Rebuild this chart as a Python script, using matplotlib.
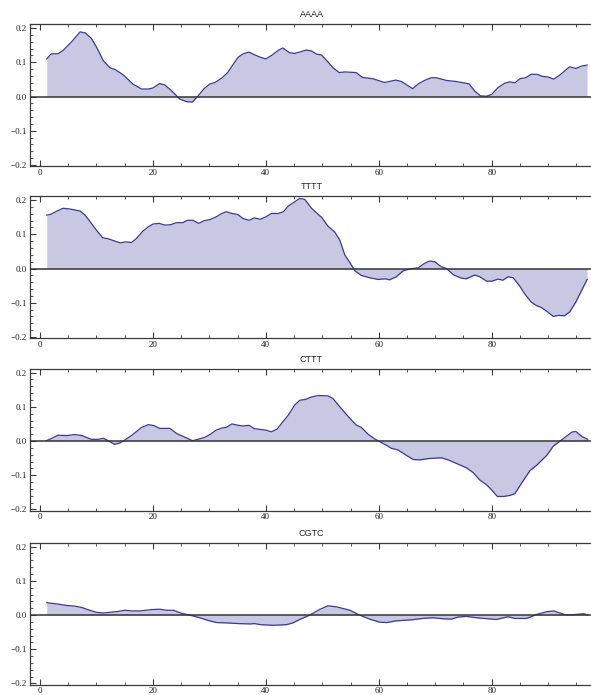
import matplotlib
matplotlib.use("Agg")
import matplotlib.pyplot as plt
from matplotlib.ticker import MultipleLocator

titles = ["AAAA", "TTTT", "CTTT", "CGTC"]

aaaa_x = [1.2, 2, 3.2, 4.1, 5.6, 7.1, 8, 9.1, 10, 11.2, 12.4, 13.3, 14.7, 16.5, 18, 19.2, 20,
          21.2, 22.1, 23.3, 24.8, 26, 27, 28, 29, 30, 31, 32.2, 33.3, 34.2, 35.1, 36, 37, 38, 39,
          40, 41, 42.2, 43, 44.2, 45.1, 46, 47.2, 48.1, 49, 49.9, 51, 51.9, 53, 54, 56, 57.1, 59,
          61, 63, 64, 66, 67, 68.1, 69.3, 70.2, 72, 73.7, 76, 77, 78, 79.1, 80, 81.1, 82.3, 83.2,
          84.1, 85, 86, 87, 88, 89, 90, 91, 92, 93.8, 94.9, 95.9, 96.9]
aaaa_y = [0.110, 0.125, 0.125, 0.135, 0.160, 0.189, 0.186, 0.170, 0.145, 0.105, 0.084, 0.079,
          0.064, 0.036, 0.022, 0.022, 0.025, 0.038, 0.034, 0.017, -0.008, -0.015, -0.016, 0.002,
          0.022, 0.036, 0.041, 0.054, 0.071, 0.094, 0.115, 0.125, 0.130, 0.122, 0.115, 0.110,
          0.120, 0.135, 0.142, 0.128, 0.126, 0.130, 0.136, 0.133, 0.124, 0.121, 0.101, 0.084,
          0.070, 0.072, 0.070, 0.056, 0.052, 0.041, 0.048, 0.044, 0.023, 0.037, 0.047, 0.055,
          0.055, 0.047, 0.044, 0.037, 0.016, 0.002, 0.001, 0.006, 0.026, 0.039, 0.043, 0.040,
          0.052, 0.055, 0.065, 0.065, 0.059, 0.057, 0.051, 0.062, 0.087, 0.082, 0.089, 0.092]

tttt_x = [1.2, 2, 3, 4.1, 5.3, 7.1, 8, 9.1, 10, 11.1, 12.1, 13.3, 14.2, 15.2, 16.2, 17.1, 18.2,
          19.2, 20, 21.1, 22.1, 23.1, 24.2, 25.3, 26.1, 27.1, 28.1, 29.1, 30.1, 31.2, 32.2, 33,
          34, 35, 36, 37, 38, 39, 40, 41, 42.2, 43.1, 44, 45.1, 46, 46.9, 48.1, 49.9, 51, 52.2,
          53.1, 54, 54.9, 55.8, 56.9, 58.4, 59.9, 61.1, 61.9, 63.1, 64.3, 65.5, 67, 68.1, 69,
          69.9, 71.1, 72, 73.2, 74.6, 75.5, 77, 77.9, 79.1, 80, 81.1, 82, 82.9, 83.8, 85, 85.8,
          87, 87.9, 88.8, 90, 90.9, 91.7, 92.9, 93.8, 94.9, 95.9, 96.9]
tttt_y = [0.156, 0.159, 0.168, 0.176, 0.174, 0.168, 0.156, 0.132, 0.112, 0.090, 0.087, 0.080,
          0.075, 0.078, 0.076, 0.088, 0.109, 0.122, 0.130, 0.132, 0.127, 0.128, 0.134, 0.134,
          0.141, 0.141, 0.132, 0.140, 0.143, 0.151, 0.161, 0.166, 0.161, 0.158, 0.146, 0.141,
          0.148, 0.144, 0.151, 0.161, 0.161, 0.166, 0.183, 0.195, 0.205, 0.202, 0.176, 0.149,
          0.124, 0.107, 0.083, 0.039, 0.017, -0.007, -0.020, -0.027, -0.032, -0.030, -0.033,
          -0.024, -0.007, -0.001, 0.002, 0.015, 0.022, 0.020, 0.005, 0.000, -0.018, -0.028,
          -0.030, -0.019, -0.024, -0.037, -0.037, -0.031, -0.034, -0.024, -0.027, -0.052,
          -0.073, -0.098, -0.108, -0.114, -0.128, -0.140, -0.137, -0.138, -0.127, -0.098,
          -0.065, -0.032]

cttt_x = [1.1, 2.1, 3.2, 4.7, 6.2, 7.4, 9.1, 10.3, 11.2, 12.1, 13.2, 14.2, 15, 16.2, 18, 19.2,
          20.2, 21.2, 23, 24.2, 25.7, 27, 28, 29.2, 30.1, 31.2, 32.2, 33, 34, 35.1, 36, 37, 38,
          40, 41, 42, 43, 44, 45.1, 46, 47.1, 48.1, 49.3, 51, 51.9, 53.1, 54.9, 56, 56.9, 58.1,
          59.3, 60.2, 61.4, 62.2, 63.4, 64.9, 66.1, 67.3, 69, 71.1, 72.3, 73.7, 75.5, 76.7,
          77.9, 79.1, 80, 81, 82.1, 83.2, 84.1, 85.3, 86.8, 88, 89.8, 90.9, 92.2, 93.4, 94.2,
          94.9, 96, 97]
cttt_y = [0.001, 0.008, 0.017, 0.016, 0.019, 0.016, 0.005, 0.005, 0.008, 0.001, -0.010, -0.005,
          0.003, 0.016, 0.040, 0.048, 0.045, 0.037, 0.037, 0.022, 0.011, 0.001, 0.005, 0.011,
          0.019, 0.032, 0.038, 0.040, 0.050, 0.046, 0.044, 0.046, 0.036, 0.032, 0.027, 0.035,
          0.056, 0.076, 0.105, 0.119, 0.122, 0.129, 0.133, 0.132, 0.124, 0.100, 0.066, 0.047,
          0.040, 0.020, 0.006, -0.002, -0.013, -0.021, -0.026, -0.042, -0.054, -0.055, -0.051,
          -0.049, -0.055, -0.065, -0.078, -0.092, -0.114, -0.128, -0.143, -0.162, -0.162,
          -0.159, -0.154, -0.123, -0.086, -0.070, -0.041, -0.015, 0.001, 0.016, 0.026, 0.028,
          0.013, 0.005]

cgtc_x = [1.2, 3.2, 4.7, 6.2, 7.4, 8.8, 10, 11.2, 12.4, 13.6, 15, 16.2, 17.7, 19.8, 21.2, 22.4,
          23.6, 25.1, 26.5, 28.3, 29.8, 31.3, 33, 35.1, 37.2, 38, 39, 40.1, 41.3, 43.7, 44.8,
          46, 47.8, 49.6, 51, 52.5, 54.9, 56.6, 58.4, 60.2, 61.4, 63.1, 65.8, 67.8, 69.6, 71.4,
          72.9, 74, 75.5, 77.3, 79.4, 80.8, 82.9, 84.1, 86.2, 88, 89.8, 91, 93, 94.5, 96.3, 97]
cgtc_y = [0.036, 0.032, 0.028, 0.026, 0.022, 0.014, 0.008, 0.006, 0.008, 0.010, 0.014, 0.012,
          0.012, 0.016, 0.017, 0.014, 0.014, 0.005, 0.000, -0.008, -0.016, -0.022, -0.023,
          -0.025, -0.026, -0.025, -0.028, -0.029, -0.030, -0.028, -0.023, -0.013, 0.000, 0.017,
          0.027, 0.024, 0.014, 0.000, -0.012, -0.021, -0.022, -0.017, -0.014, -0.010, -0.008,
          -0.011, -0.012, -0.006, -0.004, -0.008, -0.011, -0.013, -0.005, -0.010, -0.010, 0.002,
          0.010, 0.012, 0.001, 0.001, 0.004, 0.000]

series = [(aaaa_x, aaaa_y), (tttt_x, tttt_y), (cttt_x, cttt_y), (cgtc_x, cgtc_y)]

W, H = 591, 695
fig = plt.figure(figsize=(W / 100, H / 100), dpi=100)

tops = [24, 196, 368.5, 542.5]
ax_h = 142
left_px, right_px = 30, 593
px_per_unit = 5.646
x0_px = 40
xlim = ((left_px - x0_px) / px_per_unit, (right_px - x0_px) / px_per_unit)

line_color = "#3A3A96"
fill_color = "#C8C8E3"
frame_color = "#3a3a3a"

for i, (title, (xs, ys)) in enumerate(zip(titles, series)):
    top = tops[i]
    ax = fig.add_axes([left_px / W, 1 - (top + ax_h) / H, (right_px - left_px) / W, ax_h / H])
    ax.fill_between(xs, ys, 0, color=fill_color, linewidth=0)
    ax.plot(xs, ys, color=line_color, lw=0.9)
    ax.axhline(0, color="#333333", lw=1.1, zorder=3)
    ax.set_xlim(*xlim)
    ax.set_ylim(-0.203, 0.212)
    ax.xaxis.set_major_locator(MultipleLocator(20))
    ax.xaxis.set_minor_locator(MultipleLocator(5))
    ax.yaxis.set_major_locator(MultipleLocator(0.1))
    ax.yaxis.set_minor_locator(MultipleLocator(0.02))
    ax.set_yticks([-0.2, -0.1, 0.0, 0.1, 0.2])
    ax.set_yticklabels(["\u22120.2", "\u22120.1", "0.0", "0.1", "0.2"])
    ax.tick_params(axis="both", which="both", direction="in", top=True, right=False,
                   colors=frame_color, labelcolor="#222222")
    ax.tick_params(axis="both", which="major", length=4, width=0.8, labelsize=6.5, pad=2)
    ax.tick_params(axis="both", which="minor", length=2, width=0.6)
    for lab in ax.get_xticklabels() + ax.get_yticklabels():
        lab.set_fontfamily("Liberation Serif")
    for s in ax.spines.values():
        s.set_color(frame_color)
        s.set_linewidth(0.9)
    ax.set_title(title, fontsize=6.5, family="Liberation Sans", pad=5, color="#222222")

fig.savefig("out.png", dpi=100)
